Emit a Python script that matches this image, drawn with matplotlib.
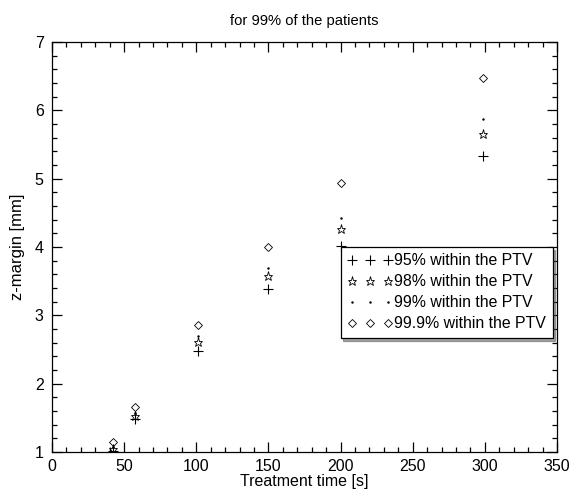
import matplotlib
matplotlib.use('Agg')
import matplotlib.pyplot as plt
from matplotlib.ticker import MultipleLocator

plt.rcParams['font.family'] = ['Liberation Sans', 'DejaVu Sans']

# treatment times [s]
times = [42, 57.5, 101, 150, 200, 299]
# z-margin [mm] for each coverage level
m95 = [1.02, 1.48, 2.48, 3.38, 4.02, 5.33]
m98 = [1.05, 1.53, 2.61, 3.57, 4.26, 5.66]
m99 = [1.08, 1.57, 2.70, 3.70, 4.43, 5.87]
m999 = [1.15, 1.66, 2.86, 4.00, 4.93, 6.47]
labels = ['95% within the PTV', '98% within the PTV',
          '99% within the PTV', '99.9% within the PTV']

fig = plt.figure(figsize=(5.72, 4.92), dpi=100)
ax = fig.add_axes([0.0909, 0.0813, 0.8829, 0.8333])

ax.plot(times, m95, ls='none', marker='+', ms=6.5, mew=0.8, color='black', label=labels[0])
ax.plot(times, m98, ls='none', marker='*', ms=6.5, mew=0.6, mfc='none', color='black', label=labels[1])
ax.plot(times, m99, ls='none', marker='.', ms=1.5, color='black', label=labels[2])
ax.plot(times, m999, ls='none', marker='D', ms=4.5, mew=0.6, mfc='none', color='black', label=labels[3])

ax.set_xlim(0, 350)
ax.set_ylim(1, 7)
ax.xaxis.set_major_locator(MultipleLocator(50))
ax.xaxis.set_minor_locator(MultipleLocator(10))
ax.yaxis.set_major_locator(MultipleLocator(1))
ax.yaxis.set_minor_locator(MultipleLocator(0.2))
ax.tick_params(which='both', direction='in', top=True, right=True, labelsize=11.5, width=0.9)
ax.tick_params(which='major', length=7)
ax.tick_params(axis='x', which='major', pad=5)
ax.tick_params(axis='y', which='major', pad=6)
ax.tick_params(which='minor', length=3.5)
for s in ax.spines.values():
    s.set_linewidth(0.9)

ax.set_title('for 99% of the patients', fontsize=10.6, pad=12)
ax.set_xlabel('Treatment time [s]', fontsize=11.5, labelpad=0)
ax.set_ylabel('z-margin [mm]', fontsize=12, labelpad=7)

leg = ax.legend(loc='upper left', bbox_to_anchor=(200, 4.0), bbox_transform=ax.transData,
                numpoints=3, fontsize=11.4, fancybox=False, shadow=True, frameon=True,
                handlelength=2.9, handletextpad=0.1, borderpad=0.4, labelspacing=0.38,
                borderaxespad=0)
leg.get_frame().set_edgecolor('black')
leg.get_frame().set_linewidth(0.9)

fig.savefig('out.png', dpi=100)
